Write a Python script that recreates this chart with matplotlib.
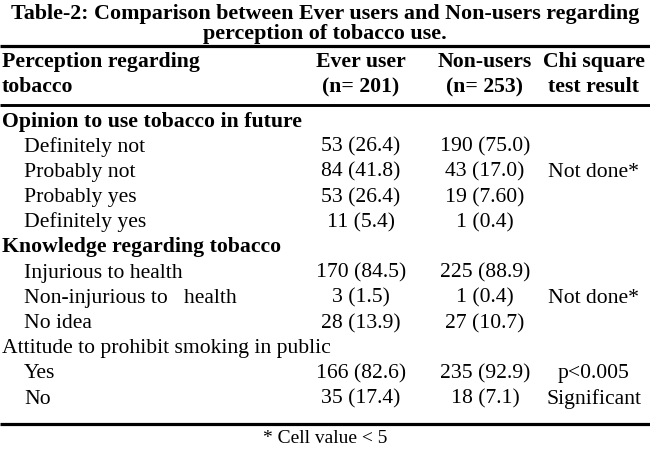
import matplotlib
matplotlib.use("Agg")
import matplotlib.pyplot as plt

plt.rcParams['font.family'] = ['Liberation Serif', 'DejaVu Serif']

title_lines = ["Table-2: Comparison between Ever users and Non-users regarding",
               "perception of tobacco use."]
header_top = ["Perception regarding", "Ever user", "Non-users", "Chi square"]
header_bottom = ["tobacco", "(n= 201)", "(n= 253)", "test result"]

sections = ["Opinion to use tobacco in future",
            "Knowledge regarding tobacco",
            "Attitude to prohibit smoking in public"]
section_bold = [True, True, False]
section_items = [
    ["Definitely not", "Probably not", "Probably yes", "Definitely yes"],
    ["Injurious to health", "Non-injurious to   health", "No idea"],
    ["Yes", "No"],
]
ever_users = [
    ["53 (26.4)", "84 (41.8)", "53 (26.4)", "11 (5.4)"],
    ["170 (84.5)", "3 (1.5)", "28 (13.9)"],
    ["166 (82.6)", "35 (17.4)"],
]
non_users = [
    ["190 (75.0)", "43 (17.0)", "19 (7.60)", "1 (0.4)"],
    ["225 (88.9)", "1 (0.4)", "27 (10.7)"],
    ["235 (92.9)", "18 (7.1)"],
]
chi_square = [
    ["", "Not done*", "", ""],
    ["", "Not done*", ""],
    ["p<0.005", "Significant"],
]
footnote = "* Cell value < 5"

W, H = 650, 451
fig = plt.figure(figsize=(W / 100, H / 100), dpi=100)
ax = fig.add_axes([0, 0, 1, 1])
ax.set_xlim(0, W)
ax.set_ylim(H, 0)
ax.axis("off")

col_x = [2, 361, 485, 594]
indent_x = 24
body_fs = 15.6
head_fs = 15.7
title_fs = 15.8

# title
ax.text(W / 2, 18.5, title_lines[0], ha="center", va="baseline",
        fontsize=title_fs, fontweight="bold")
ax.text(W / 2, 38.5, title_lines[1], ha="center", va="baseline",
        fontsize=title_fs, fontweight="bold")

# rules
for y, lw in [(46, 2.3), (105, 2.1), (424, 2.3)]:
    ax.plot([0, W], [y, y], color="black", lw=lw, solid_capstyle="butt")

# header
for i, (top, bot) in enumerate(zip(header_top, header_bottom)):
    ha = "left" if i == 0 else "center"
    ax.text(col_x[i], 67, top, ha=ha, va="baseline", fontsize=head_fs, fontweight="bold")
    ax.text(col_x[i], 92, bot, ha=ha, va="baseline", fontsize=head_fs, fontweight="bold")

# body
y = 126.5
step = 25.2
for s, name in enumerate(sections):
    ax.text(col_x[0], y, name, ha="left", va="baseline",
            fontsize=head_fs if section_bold[s] else body_fs,
            fontweight="bold" if section_bold[s] else "normal")
    y += step
    for k, item in enumerate(section_items[s]):
        ax.text(indent_x, y, item, ha="left", va="baseline", fontsize=body_fs)
        ax.text(col_x[1], y, ever_users[s][k], ha="center", va="baseline", fontsize=body_fs)
        ax.text(col_x[2], y, non_users[s][k], ha="center", va="baseline", fontsize=body_fs)
        if chi_square[s][k]:
            ax.text(col_x[3], y, chi_square[s][k], ha="center", va="baseline", fontsize=body_fs)
        y += step

ax.text(W / 2, 443, footnote, ha="center", va="baseline", fontsize=14)

fig.savefig("out.png", dpi=100)
